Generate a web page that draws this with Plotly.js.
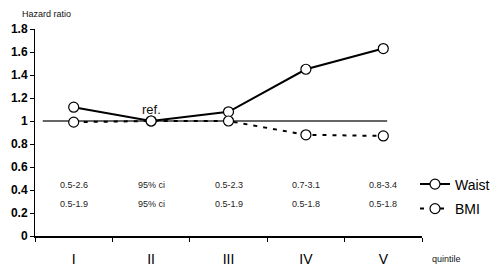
<!DOCTYPE html>
<html>
<head>
<meta charset="utf-8">
<script src="https://cdn.plot.ly/plotly-3.0.1.min.js"></script>
<style>html,body{margin:0;padding:0;background:#fff;}#chart{width:500px;height:279px;}</style>
</head>
<body>
<div id="chart"></div>
<script>
const quintiles = ["I", "II", "III", "IV", "V"];
const waistHR = [1.12, 1.0, 1.08, 1.45, 1.63];
const bmiHR = [0.99, 1.0, 1.0, 0.88, 0.87];
const waistCI = ["0.5-2.6", "95% ci", "0.5-2.3", "0.7-3.1", "0.8-3.4"];
const bmiCI = ["0.5-1.9", "95% ci", "0.5-1.9", "0.5-1.8", "0.5-1.8"];
const refValue = 1;

const font = "Arial, 'Liberation Sans', sans-serif";
const markerStyle = {symbol: "circle", size: 10, color: "#fff", line: {color: "#000", width: 1.2}};

const traces = [
  {x: quintiles, y: waistHR, name: "Waist", type: "scatter", mode: "lines+markers", legend: "legend",
   line: {color: "#000", width: 2}, marker: markerStyle},
  {x: quintiles, y: bmiHR, name: "BMI", type: "scatter", mode: "lines+markers", legend: "legend2",
   line: {color: "#000", width: 2, dash: "4px,6px"}, marker: markerStyle}
];

const annotations = [];
quintiles.forEach((q, i) => {
  annotations.push({x: q, y: 0.44, xref: "x", yref: "y", text: waistCI[i], showarrow: false,
    font: {family: font, size: 9, color: "#222"}});
  annotations.push({x: q, y: 0.28, xref: "x", yref: "y", text: bmiCI[i], showarrow: false,
    font: {family: font, size: 9, color: "#222"}});
});
annotations.push({x: "II", y: 1.1, xref: "x", yref: "y", text: "ref.", showarrow: false,
  font: {family: font, size: 13, color: "#111"}});
annotations.push({x: -0.038, y: 1.072, xref: "paper", yref: "paper", xanchor: "left", yanchor: "middle",
  text: "Hazard ratio", showarrow: false, font: {family: font, size: 9, color: "#111"}});
annotations.push({x: 1.02, y: -0.11, xref: "paper", yref: "paper", xanchor: "left", yanchor: "middle",
  text: "quintile", showarrow: false, font: {family: font, size: 9, color: "#111"}});

const legendBase = {xref: "container", yref: "container", xanchor: "left", yanchor: "middle",
  font: {family: font, size: 14, color: "#000"}, bgcolor: "rgba(0,0,0,0)", itemwidth: 30};

const layout = {
  width: 500, height: 279,
  margin: {l: 35, r: 78, t: 29, b: 43, autoexpand: false},
  paper_bgcolor: "#fff", plot_bgcolor: "#fff",
  showlegend: true,
  legend: Object.assign({x: 0.83, y: 1 - 184.5 / 279}, legendBase),
  legend2: Object.assign({x: 0.83, y: 1 - 209 / 279}, legendBase),
  xaxis: {type: "category", range: [-0.5, 4.5], showline: true, linecolor: "#000", linewidth: 1.5,
    ticks: "outside", ticklen: 4, tickcolor: "#000", tickson: "boundaries", showgrid: false, zeroline: false,
    tickfont: {family: font, size: 14, color: "#000"}, ticklabelstandoff: 10},
  yaxis: {range: [0, 1.8], dtick: 0.2, showline: true, linecolor: "#000", linewidth: 1,
    ticks: "outside", ticklen: 4, tickcolor: "#000", showgrid: false, zeroline: false,
    tickfont: {family: font, size: 12, color: "#000", weight: "bold"}},
  shapes: [{type: "line", xref: "x", yref: "y", x0: -0.4, x1: 4.05, y0: refValue, y1: refValue,
    line: {color: "#333", width: 1.3}, layer: "below"}],
  annotations: annotations
};

Plotly.newPlot("chart", traces, layout, {displayModeBar: false, staticPlot: true});
</script>
</body>
</html>
